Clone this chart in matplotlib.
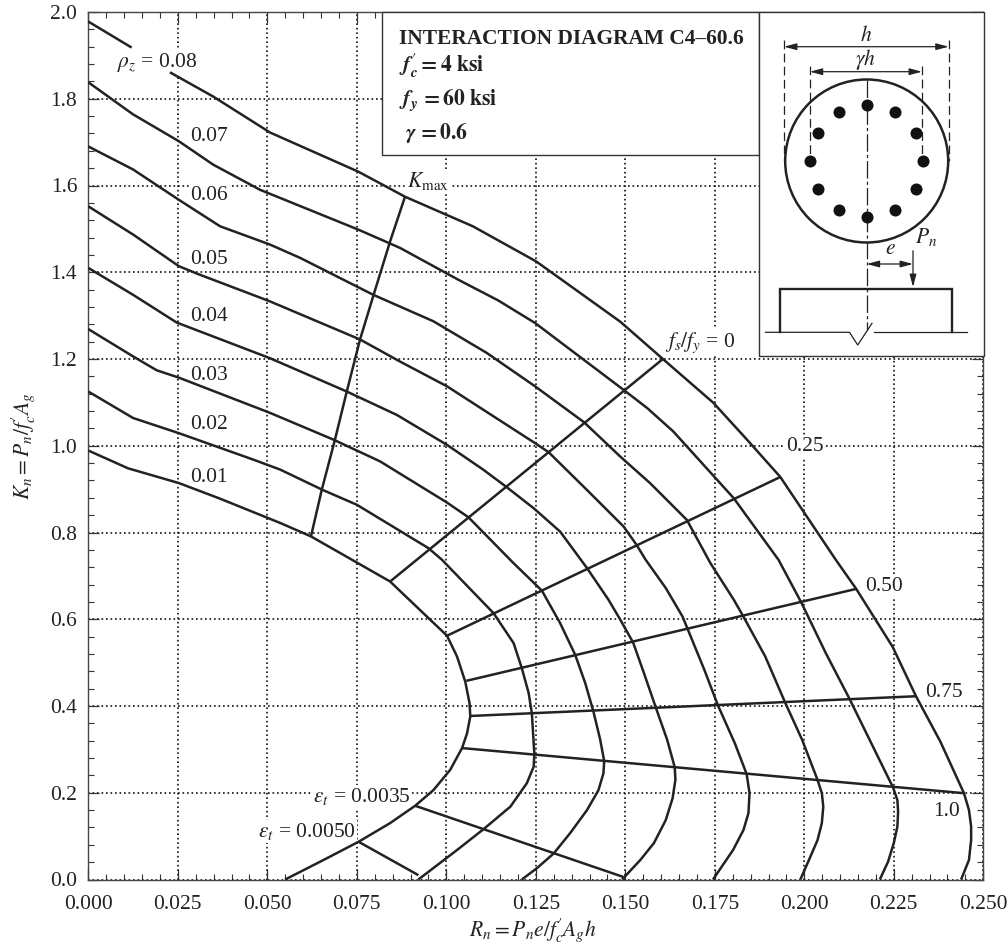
import numpy as np
import matplotlib
matplotlib.use("Agg")
import matplotlib.pyplot as plt
from matplotlib.patches import Circle, Rectangle

plt.rcParams['font.family'] = ['Liberation Serif', 'DejaVu Serif']
plt.rcParams['mathtext.fontset'] = 'stix'

#--- DATA ---#

# rho_z curves (R_n, K_n); nan leaves the gap for the label
r_08 = [0.0, .0121, np.nan, .0228, .0349, .0508, .0754, .0885, .1074, .1251, .1486, .1605, .1746, .1840, .1933, .2088, .2145, .2247, .2312, .2380, .2446, .2460, .2466, .2466, .2460, .2438]
k_08 = [1.978, 1.918, np.nan, 1.861, 1.805, 1.722, 1.632, 1.574, 1.506, 1.425, 1.286, 1.200, 1.099, 1.014, .928, .737, .670, .536, .4225, .318, .199, .160, .122, .091, .045, 0.0]
r_07 = [0.0, .0125, .0253, .0349, .0480, .0755, .0871, .1033, .1145, .1248, .1495, .1561, .1634, .1803, .1928, .1992, .2060, .2126, .2192, .2248, .2260, .2262, .2260, .2250, .2234, .2211]
k_07 = [1.838, 1.764, 1.702, 1.648, 1.590, 1.498, 1.456, 1.383, 1.335, 1.283, 1.129, 1.087, 1.033, .879, .737, .638, .522, .417, .306, .212, .183, .156, .122, .084, .041, 0.0]
r_06 = [0.0, .0125, .0253, .0368, .0507, .0592, .0796, .0964, .1113, .1248, .1385, .1486, .1569, .1672, .1738, .1803, .1830, .1891, .1947, .1994, .2037, .2049, .2053, .2049, .2037, .2013, .1989]
k_06 = [1.690, 1.637, 1.567, 1.506, 1.464, 1.433, 1.348, 1.287, 1.214, 1.137, 1.054, .975, .914, .829, .729, .645, .606, .514, .407, .322, .2295, .199, .168, .130, .091, .045, 0.0]
r_05 = [0.0, .0125, .0253, .0303, .0507, .0759, .0871, .1002, .1248, .1286, .1393, .1495, .1531, .1557, .1613, .1660, .1721, .1759, .1806, .1839, .1847, .1844, .1830, .1801, .1745]
k_05 = [1.552, 1.487, 1.414, 1.397, 1.333, 1.245, 1.194, 1.137, 1.006, .985, .898, .814, .772, .737, .672, .606, .483, .401, .314, .243, .199, .153, .114, .068, 0.0]
r_04 = [0.0, .0125, .0247, .0507, .0722, .0862, .1002, .1103, .1168, .1244, .1318, .1393, .1453, .1486, .1522, .1552, .1585, .1617, .1638, .1640, .1632, .1613, .1580, .1542, .1491]
k_04 = [1.410, 1.348, 1.284, 1.202, 1.125, 1.071, 1.002, .945, .905, .856, .802, .718, .645, .599, .546, .476, .397, .322, .259, .230, .187, .137, .084, .045, 0.0]
r_03 = [0.0, .0125, .0191, .0253, .0507, .0685, .0815, .1002, .1062, .1187, .1267, .1318, .1360, .1388, .1411, .1430, .1441, .1439, .1425, .1393, .1346, .1300, .1253, .1211]
k_03 = [1.269, 1.206, 1.174, 1.157, 1.076, 1.014, .964, .869, .835, .730, .666, .591, .518, .453, .387, .322, .273, .245, .206, .160, .107, .060, .026, 0.0]
r_02 = [0.0, .0125, .0253, .0461, .0536, .0655, .0750, .0950, .0988, .1132, .1188, .1211, .1230, .1239, .1246, .1244, .1225, .1179, .1104, .1030, .0922]
k_02 = [1.125, 1.064, 1.029, .968, .945, .898, .864, .764, .737, .614, .545, .487, .430, .383, .289, .260, .222, .168, .116, .068, 0.0]
r_01 = [0.0, .0111, .0253, .0368, .0536, .0622, .0843, .1002, .1030, .1053, .1065, .1067, .1058, .1044, .1011, .0964, .0913, .0843, .0755, .0657, .0550]
k_01 = [.989, .948, .914, .878, .822, .791, .687, .562, .514, .456, .406, .376, .337, .303, .253, .206, .170, .130, .087, .045, 0.0]

# cross lines
r_kmax = [.0885, .0843, .0797, .0759, .0722, .0689, .0652, .0622]
k_kmax = [1.575, 1.471, 1.348, 1.245, 1.125, 1.014, .898, .791]
r_fs00 = [.0843, .1605]
k_fs00 = [.687, 1.200]
r_fs25 = [.1002, .1933]
k_fs25 = [.562, .928]
r_fs50 = [.1056, .2145]
k_fs50 = [.458, .670]
r_fs75 = [.1067, .2312]
k_fs75 = [.377, .4225]
r_fs100 = [.1044, .2446]
k_fs100 = [.303, .199]
r_e35 = [.0913, .1494]
k_e35 = [.170, .006]
r_e50 = [.0755, .0922]
k_e50 = [.087, .010]

curves = [(r_08, k_08), (r_07, k_07), (r_06, k_06), (r_05, k_05), (r_04, k_04), (r_03, k_03), (r_02, k_02), (r_01, k_01),
          (r_kmax, k_kmax), (r_fs00, k_fs00), (r_fs25, k_fs25), (r_fs50, k_fs50), (r_fs75, k_fs75), (r_fs100, k_fs100),
          (r_e35, k_e35), (r_e50, k_e50)]

x_ticks = [0.0, 0.025, 0.05, 0.075, 0.1, 0.125, 0.15, 0.175, 0.2, 0.225, 0.25]
y_ticks = [0.0, 0.2, 0.4, 0.6, 0.8, 1.0, 1.2, 1.4, 1.6, 1.8, 2.0]

# label text, R_n, K_n
labels = [(r"$\rho_z$ = 0.08", .0079, 1.873), ("0.07", .0284, 1.702), ("0.06", .0284, 1.567), ("0.05", .0284, 1.419),
          ("0.04", .0284, 1.287), ("0.03", .0284, 1.152), ("0.02", .0284, 1.038), ("0.01", .0284, .916),
          (r"$K_{\mathrm{max}}$", .0891, 1.597), (r"$f_s/f_y$ = 0", .1612, 1.228), ("0.25", .195, .988),
          ("0.50", .2171, .6655), ("0.75", .2338, .4217), ("1.0", .2361, .1465),
          (r"$\epsilon_t$ = 0.0035", .0629, .1795), (r"$\epsilon_t$ = 0.0050", .0475, .0987)]

#--- FIGURE ---#

W, H = 1008, 950
ink = "#222222"
fs = 15.5

fig = plt.figure(figsize=(W/100, H/100), dpi=100)
ax = fig.add_axes([88.3/W, 1-879.5/H, (983.3-88.3)/W, (879.5-12.)/H])

for r, k in curves:
    ax.plot(r, k, color=ink, lw=1.8, zorder=3, solid_joinstyle="round", solid_capstyle="butt")

ax.set_xlim(0, 0.25)
ax.set_ylim(0, 2)
ax.set_xticks(x_ticks)
ax.set_xticklabels(["%.3f" % v for v in x_ticks])
ax.set_yticks(y_ticks)
ax.set_yticklabels(["%.1f" % v for v in y_ticks])
ax.set_xticks(np.arange(0, 0.2501, 0.005), minor=True)
ax.set_yticks(np.arange(0, 2.001, 0.04), minor=True)
ax.tick_params(which="major", direction="in", length=8, width=0.9, top=True, right=True, color="#333333",
               labelsize=fs, labelcolor=ink)
ax.tick_params(axis="x", which="major", pad=11)
ax.tick_params(axis="y", which="major", pad=8)
ax.tick_params(which="minor", direction="in", length=4, width=0.8, top=True, right=True, color="#333333")
ax.grid(True, which="major", color="#111111", lw=1.2, linestyle=(0, (1, 1.7)), zorder=1)
ax.set_axisbelow(True)
for s in ax.spines.values():
    s.set_linewidth(1.0)
    s.set_color("#444444")

for txt, r, k in labels:
    ax.text(r, k, txt, fontsize=fs, color=ink, ha="left", va="baseline", zorder=2,
            bbox=dict(fc="white", ec="none", pad=0.8))

# overlay in picture pixels, for the axis titles, the title box and the column sketch
ov = fig.add_axes([0, 0, 1, 1], zorder=5)
ov.set_xlim(0, W)
ov.set_ylim(H, 0)
ov.axis("off")

ov.text(533, 936, r"$R_n = P_n e/f_c'A_g h$", fontsize=fs, color=ink, ha="center", va="baseline")
ov.text(23, 446, r"$K_n = P_n/f_c'A_g$", fontsize=fs, color=ink, ha="center", va="center", rotation=90)

ov.add_patch(Rectangle((381.5, 12), 377, 143, fc="white", ec="#333333", lw=1.0))
ov.add_patch(Rectangle((758.5, 12), 225, 343.7, fc="white", ec="#333333", lw=1.0))

ov.text(398.7, 44, "INTERACTION DIAGRAM C4–60.6", fontsize=15.4, fontweight="bold", color=ink, va="baseline")
ov.text(398.7, 71.7, r"$\mathbfit{f}_{\mathbfit{c}}^{\,\prime}\mathbf{=4\ ksi}$", fontsize=15.5, color=ink, va="baseline")
ov.text(398.7, 106, r"$\mathbfit{f}_{\mathbfit{y}}\,\mathbf{=60\ ksi}$", fontsize=15.5, color=ink, va="baseline")
ov.text(405, 139.3, r"$\boldsymbol{\gamma}\,\mathbf{=0.6}$", fontsize=15.5, color=ink, va="baseline")

# column section
cx, cy = 866.7, 161
ov.add_patch(Circle((cx, cy), 81.5, fc="none", ec=ink, lw=1.8))
ang = np.deg2rad(np.arange(0, 360, 30))
ov.scatter(cx + 56.4*np.cos(ang), cy + 56.4*np.sin(ang), s=75, color="#111111", linewidths=0, zorder=4)
ov.plot([cx, cx], [80, 330], color=ink, lw=0.9, linestyle=(0, (14, 2.5, 2.5, 2.5)))
for xd, y0 in [(784, 40), (948.7, 40), (809.8, 65.7), (922, 65.7)]:
    ov.plot([xd, xd], [y0, cy], color=ink, lw=0.9, linestyle=(0, (7, 3.5)))

arrow = dict(arrowstyle="<|-|>,head_length=0.75,head_width=0.2", color=ink, lw=0.9, shrinkA=0, shrinkB=0)
ov.annotate("", xy=(784, 46.7), xytext=(948.7, 46.7), arrowprops=arrow)
ov.annotate("", xy=(809.8, 71.7), xytext=(922, 71.7), arrowprops=arrow)
ov.annotate("", xy=(cx, 264), xytext=(913, 264), arrowprops=arrow)
ov.annotate("", xy=(913, 287), xytext=(913, 250.7),
            arrowprops=dict(arrowstyle="-|>,head_length=0.75,head_width=0.2", color=ink, lw=0.9, shrinkA=0, shrinkB=0))
ov.text(866, 41, "$h$", fontsize=fs, color=ink, ha="center", va="baseline")
ov.text(866, 65, r"$\gamma h$", fontsize=fs, color=ink, ha="center", va="baseline")
ov.text(890.5, 254, "$e$", fontsize=fs, color=ink, ha="center", va="baseline")
ov.text(915, 243, "$P_n$", fontsize=fs, color=ink, ha="left", va="baseline")

# footing and break mark
ov.plot([780, 780, 952, 952], [332.3, 289.3, 289.3, 332.3], color=ink, lw=1.7, solid_joinstyle="miter")
ov.plot([765.5, 849.5, 857.7, 872], [332.3, 332.3, 345, 323.3], color=ink, lw=0.9)
ov.plot([874, 967], [332.3, 332.3], color=ink, lw=0.9)

plt.savefig("out.png", dpi=100)
plt.close()
